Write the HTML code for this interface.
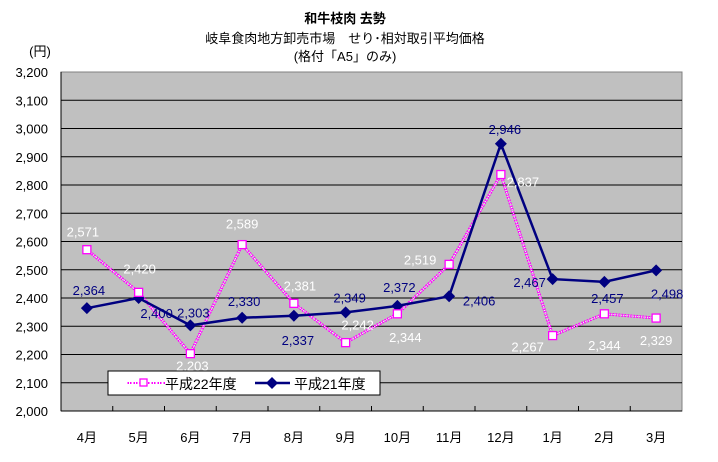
<!DOCTYPE html>
<html><head><meta charset="utf-8"><style>
body{margin:0;background:#fff;}
svg text{font-family:"Liberation Sans","Noto Sans CJK JP",sans-serif;}
</style></head><body>
<svg width="718" height="457" xmlns="http://www.w3.org/2000/svg" id="chart">
<text x="345" y="23" text-anchor="middle" font-size="13" font-weight="bold">和牛枝肉 去勢</text>
<text x="345" y="43" text-anchor="middle" font-size="13">岐阜食肉地方卸売市場　せり･相対取引平均価格</text>
<text x="345" y="61" text-anchor="middle" font-size="13">(格付「A5」のみ)</text>
<text x="40" y="56" text-anchor="middle" font-size="13">(円)</text>
<rect x="61" y="72" width="621" height="339" fill="#c0c0c0" stroke="#808080"/>
<g id="grid"></g><g id="series"></g><g id="labels"></g>
<g>
<rect x="108" y="371" width="272" height="24" fill="#fff" stroke="#000"/>
<line x1="127" y1="383" x2="165" y2="383" stroke="#ff00ff" stroke-width="2" stroke-dasharray="2,1"/>
<line x1="127" y1="383" x2="165" y2="383" stroke="#fff" stroke-width="1" stroke-dasharray="1,1"/>
<rect x="140" y="379" width="7" height="7" fill="#fff" stroke="#ff00ff" stroke-width="1.3"/>
<text x="165" y="389" font-size="14">平成22年度</text>
<line x1="255" y1="383" x2="290" y2="383" stroke="#000080" stroke-width="2.5"/>
<path d="M272 377 L278 383 L272 389 L266 383Z" fill="#000080"/>
<text x="294" y="389" font-size="14">平成21年度</text>
</g>
</svg>
<script>
const categories=["4月","5月","6月","7月","8月","9月","10月","11月","12月","1月","2月","3月"];
const h22=[2571,2420,2203,2589,2381,2242,2344,2519,2837,2267,2344,2329];
const h21=[2364,2400,2303,2330,2337,2349,2372,2406,2946,2467,2457,2498];
const yTicks=[2000,2100,2200,2300,2400,2500,2600,2700,2800,2900,3000,3100,3200];
const h22Off=[[-4,-18],[1,-24],[2,12],[0,-21],[6,-18],[12,-18],[8,23],[-29,-5],[22,7],[-25,11],[0,31],[0,22]];
const h21Off=[[2,-18],[18,15],[3,-13],[2,-17],[4,24],[4,-15],[2,-19],[30,4],[4,-15],[-23,3],[3,16],[11,23]];
const NS="http://www.w3.org/2000/svg";
const X0=61,X1=682,Y0=411,Y1=72,YMIN=2000,YMAX=3200;
const bw=(X1-X0)/categories.length;
const xs=i=>X0+bw*(i+0.5);
const ys=v=>Y0-(v-YMIN)/(YMAX-YMIN)*(Y0-Y1);
const fmt=v=>v.toLocaleString("en-US");
function mk(tag,attrs,parent){const e=document.createElementNS(NS,tag);for(const k in attrs)e.setAttribute(k,attrs[k]);parent.appendChild(e);return e;}
const grid=document.getElementById("grid"),ser=document.getElementById("series"),lab=document.getElementById("labels");
yTicks.forEach(t=>{
 if(t>YMIN&&t<YMAX){const l=mk("line",{x1:X0,x2:X1,y1:ys(t),y2:ys(t),stroke:"#000","stroke-width":1},grid);
 
 }
 const tx=mk("text",{x:48,y:ys(t)+5,"text-anchor":"end","font-size":13},grid);
 
 
 tx.textContent=fmt(t);
});
mk("line",{x1:X0,x2:X1,y1:Y0,y2:Y0,stroke:"#000"},grid);
mk("line",{x1:X0,x2:X0,y1:Y1,y2:Y0,stroke:"#000"},grid);
categories.forEach((c,i)=>{
 if(i>0)mk("line",{x1:X0+bw*i,x2:X0+bw*i,y1:Y0,y2:Y0-5,stroke:"#000"},grid);
 const tx=mk("text",{x:xs(i),y:442,"text-anchor":"middle","font-size":13},grid);
 
 
 tx.textContent=c;
});
const p22=h22.map((v,i)=>xs(i)+","+ys(v)).join(" ");
const l22a=mk("polyline",{points:p22,fill:"none",stroke:"#ff00ff","stroke-width":3,"stroke-dasharray":"2,1"},ser);


mk("polyline",{points:p22,fill:"none",stroke:"#fff","stroke-width":1,"stroke-dasharray":"1,1"},ser);
const p21=h21.map((v,i)=>xs(i)+","+ys(v)).join(" ");
const l21=mk("polyline",{points:p21,fill:"none",stroke:"#000080","stroke-width":2.5},ser);


h21.forEach((v,i)=>{const x=xs(i),y=ys(v);
 const m=mk("path",{d:`M${x} ${y-6}L${x+6} ${y}L${x} ${y+6}L${x-6} ${y}Z`,fill:"#000080"},ser);
 
 
 const t=mk("text",{x:x+h21Off[i][0],y:y+h21Off[i][1]+5,"text-anchor":"middle","font-size":13,fill:"#000080"},lab);
 
 
 t.textContent=fmt(v);
});
h22.forEach((v,i)=>{const x=xs(i),y=ys(v);
 const m=mk("rect",{x:x-4,y:y-4,width:8,height:8,fill:"#fff",stroke:"#ff00ff","stroke-width":1.3},ser);
 
 
 const t=mk("text",{x:x+h22Off[i][0],y:y+h22Off[i][1]+5,"text-anchor":"middle","font-size":13,fill:"#fff"},lab);
 
 
 t.textContent=fmt(v);
});
</script>
</body></html>
